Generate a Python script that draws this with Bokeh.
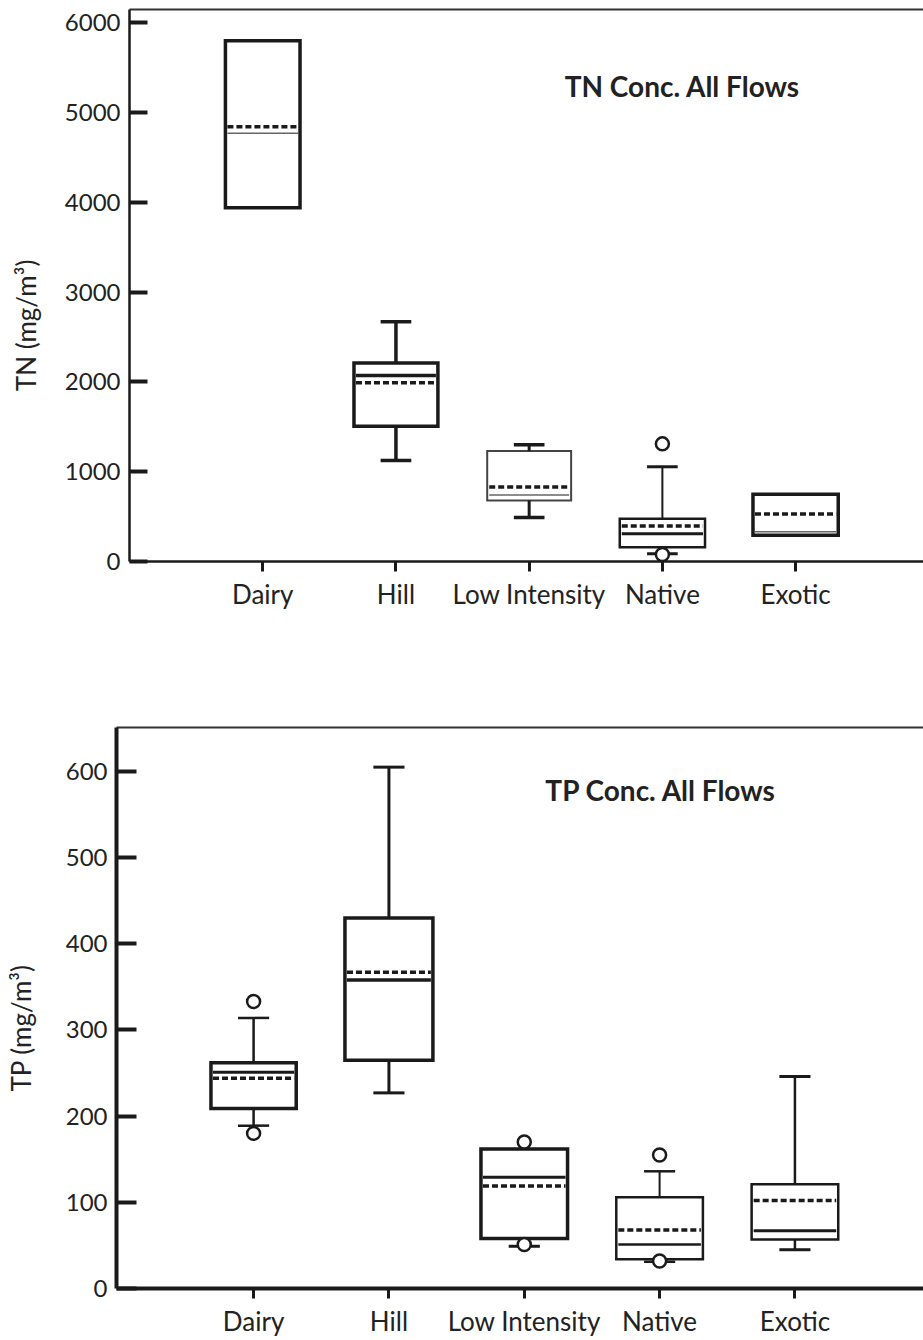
import numpy as np
from bokeh.plotting import figure
from bokeh.models import FixedTicker, LinearAxis, Label, ColumnDataSource, Range1d
from bokeh.embed import file_html
from bokeh.resources import INLINE

# ---------------- data ----------------
categories = ["Dairy", "Hill", "Low Intensity", "Native", "Exotic"]

tn_whisker_high = [None, 2670, 1300, 1055, None]
tn_q3 = [5800, 2210, 1230, 475, 750]
tn_median = [4770, 2070, 740, 310, 330]
tn_mean = [4840, 1990, 830, 395, 530]
tn_q1 = [3940, 1505, 680, 160, 292]
tn_whisker_low = [None, 1125, 490, 85, None]
tn_outlier_cat = ["Native", "Native"]
tn_outlier_val = [1310, 78]
tn_ticks = [0, 1000, 2000, 3000, 4000, 5000, 6000]

tp_whisker_high = [314, 605, None, 136, 246]
tp_q3 = [262, 430, 162, 106, 121]
tp_median = [251, 358, 129, 51, 67]
tp_mean = [244, 367, 119, 68, 102]
tp_q1 = [209, 265, 58, 34, 57]
tp_whisker_low = [189, 227, 49, 31, 45]
tp_outlier_cat = ["Dairy", "Dairy", "Low Intensity", "Low Intensity", "Native", "Native"]
tp_outlier_val = [333, 180, 170, 51, 155, 32]
tp_ticks = [0, 100, 200, 300, 400, 500, 600]

# ---------------- styles ----------------
DARK = "#1a1a1a"
GREY = "#666666"
FONT = "Lato"
NBSP = "\u00a0"

tn_style = dict(
    box_w=[0.56, 0.63, 0.63, 0.64, 0.64],
    box_lw=[3.5, 3.5, 2.0, 2.5, 3.5],
    box_col=[DARK, DARK, "#444444", DARK, DARK],
    med_lw=[1.5, 3.5, 1.5, 3.0, 1.5],
    med_col=[GREY, DARK, GREY, DARK, GREY],
    wh_lw=[3, 3.5, 3, 2, 3],
    cap_lw=[3.5, 3.5, 3.5, 3, 3],
)
tp_style = dict(
    box_w=[0.63, 0.65, 0.64, 0.64, 0.64],
    box_lw=[3.5, 3.5, 3.5, 2.5, 2.5],
    box_col=[DARK] * 5,
    med_lw=[3, 3.5, 3, 2.5, 3],
    med_col=[DARK] * 5,
    wh_lw=[2.5, 3, 3, 2, 2.5],
    cap_lw=[2.5, 3, 3, 2.5, 3],
)
CAP_W = 0.23


def make_chart(whi, q3, med, mean, q1, wlo, out_cat, out_val, ticks, style,
               x_rng, y_rng, height, borders, ylabel, ylabel_pad, ylabel_standoff,
               title, title_xy, frame_lw, tick_len):
    p = figure(width=923, height=height, output_backend="svg", toolbar_location=None,
               x_range=Range1d(*x_rng), y_range=Range1d(*y_rng),
               min_border_left=borders[0], min_border_right=0,
               min_border_top=borders[1], min_border_bottom=borders[2],
               background_fill_color="white", border_fill_color="white")
    p.outline_line_color = None
    p.xgrid.visible = False
    p.ygrid.visible = False

    xs = np.arange(1, len(categories) + 1, dtype=float)
    w = np.array(style["box_w"])

    # boxes
    box_src = ColumnDataSource(dict(l=xs - w / 2, r=xs + w / 2, t=q3, b=q1,
                                    lw=style["box_lw"], c=style["box_col"]))
    p.quad(left="l", right="r", top="t", bottom="b", source=box_src,
           fill_color="white", line_color="c", line_width="lw", line_join="miter")

    # whiskers and caps
    wx, wy0, wy1, wlw, cx0, cx1, cy, clw = [], [], [], [], [], [], [], []
    for i, x in enumerate(xs):
        for end, edge in ((whi[i], q3[i]), (wlo[i], q1[i])):
            if end is None:
                continue
            wx.append(x); wy0.append(edge); wy1.append(end); wlw.append(style["wh_lw"][i])
            cx0.append(x - CAP_W / 2); cx1.append(x + CAP_W / 2); cy.append(end)
            clw.append(style["cap_lw"][i])
    p.segment(x0="x", y0="y0", x1="x", y1="y1", line_width="lw", line_color=DARK,
              source=ColumnDataSource(dict(x=wx, y0=wy0, y1=wy1, lw=wlw)))
    p.segment(x0="x0", y0="y", x1="x1", y1="y", line_width="lw", line_color=DARK,
              source=ColumnDataSource(dict(x0=cx0, x1=cx1, y=cy, lw=clw)))

    # medians
    inner = w / 2 - 0.015
    p.segment(x0="x0", y0="y", x1="x1", y1="y", line_width="lw", line_color="c",
              source=ColumnDataSource(dict(x0=xs - inner, x1=xs + inner, y=med,
                                           lw=style["med_lw"], c=style["med_col"])))
    # means (dashed)
    p.segment(x0="x0", y0="y", x1="x1", y1="y", line_width=3.5, line_color=DARK,
              line_dash="6 3",
              source=ColumnDataSource(dict(x0=xs - inner, x1=xs + inner, y=mean)))

    # outliers
    ox = [categories.index(c) + 1 for c in out_cat]
    p.scatter(ox, out_val, marker="circle", size=13, fill_color="white",
              line_color=DARK, line_width=2.5)

    # axes
    xa = p.xaxis[0]
    xa.ticker = FixedTicker(ticks=list(xs))
    xa.major_label_overrides = {float(x): c for x, c in zip(xs, categories)}
    xa.major_tick_in = 0
    xa.major_tick_out = 10
    xa.major_tick_line_width = 3
    xa.major_tick_line_color = DARK
    xa.minor_tick_line_color = None
    xa.axis_line_width = frame_lw
    xa.axis_line_color = DARK
    xa.major_label_text_font = FONT
    xa.major_label_text_font_size = "26px"
    xa.major_label_text_color = "#222222"
    xa.major_label_standoff = 6

    ya = p.yaxis[0]
    ya.ticker = FixedTicker(ticks=ticks)
    ya.major_tick_in = tick_len
    ya.major_tick_out = 0
    ya.major_tick_line_width = 4
    ya.major_tick_line_color = DARK
    ya.minor_tick_line_color = None
    ya.axis_line_width = frame_lw
    ya.axis_line_color = DARK
    ya.major_label_text_font = FONT
    ya.major_label_text_font_size = "24px"
    ya.major_label_text_color = "#222222"
    ya.major_label_standoff = 9
    # trailing no-break spaces push the visible label below the frame centre
    ya.axis_label = ylabel + NBSP * ylabel_pad
    ya.axis_label_text_font = FONT
    ya.axis_label_text_font_size = "26px"
    ya.axis_label_text_font_style = "normal"
    ya.axis_label_text_color = "#222222"
    ya.axis_label_standoff = ylabel_standoff

    top = LinearAxis(ticker=FixedTicker(ticks=[]), axis_line_width=2,
                     axis_line_color="#333333", major_tick_line_color=None,
                     minor_tick_line_color=None, major_label_text_font_size="0px",
                     major_label_standoff=0)
    p.add_layout(top, "above")

    p.add_layout(Label(x=title_xy[0], y=title_xy[1], text=title, text_font=FONT,
                       text_font_size="28px", text_font_style="bold",
                       text_color="#222222", text_align="center",
                       text_baseline="alphabetic"))
    return p


p1 = make_chart(tn_whisker_high, tn_q3, tn_median, tn_mean, tn_q1, tn_whisker_low,
                tn_outlier_cat, tn_outlier_val, tn_ticks, tn_style,
                x_rng=(0.0, 5.96), y_rng=(0, 6147), height=640,
                borders=(129, 9, 79), ylabel="TN (mg/m³)",
                ylabel_pad=12, ylabel_standoff=20,
                title="TN Conc. All Flows", title_xy=(4.15, 5290),
                frame_lw=2.5, tick_len=18)

p2 = make_chart(tp_whisker_high, tp_q3, tp_median, tp_mean, tp_q1, tp_whisker_low,
                tp_outlier_cat, tp_outlier_val, tp_ticks, tp_style,
                x_rng=(-0.013, 5.95), y_rng=(0, 651), height=700,
                borders=(116, 87, 52), ylabel="TP (mg/m³)",
                ylabel_pad=6, ylabel_standoff=26,
                title="TP Conc. All Flows", title_xy=(4.01, 578),
                frame_lw=4, tick_len=20)

# two independent roots so each frame keeps its own left edge
open("out.html", "w").write(file_html([p1, p2], INLINE))
